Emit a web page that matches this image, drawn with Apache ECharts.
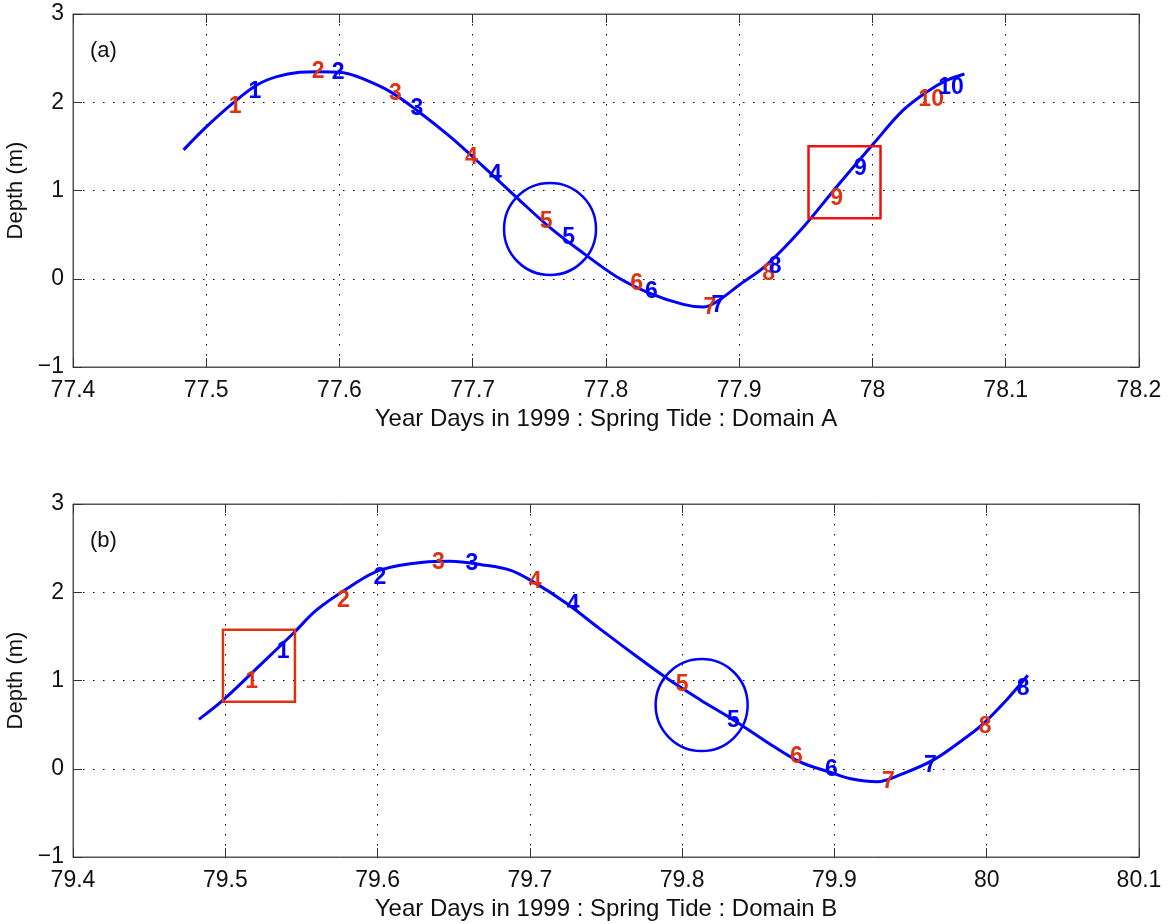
<!DOCTYPE html>
<html>
<head>
<meta charset="utf-8">
<script src="https://cdn.jsdelivr.net/npm/echarts@6/dist/echarts.min.js"></script>
<style>html,body{margin:0;padding:0;background:#fff;}#c{width:1176px;height:924px;}</style>
</head>
<body>
<div id="c"></div>
<script>
// ---- Panel (a) data ----
const topX = [77.483, 77.500, 77.520, 77.538, 77.553, 77.570, 77.583, 77.603, 77.620, 77.638, 77.658, 77.683, 77.708, 77.733, 77.758, 77.783, 77.808, 77.833, 77.858, 77.873, 77.883, 77.900, 77.920, 77.946, 77.973, 78.001, 78.023, 78.041, 78.056, 78.069];
const topY = [1.46, 1.72, 1.99, 2.195, 2.29, 2.34, 2.347, 2.335, 2.25, 2.12, 1.91, 1.61, 1.27, 0.92, 0.58, 0.29, 0.023, -0.165, -0.29, -0.32, -0.26, -0.07, 0.15, 0.55, 1.04, 1.535, 1.91, 2.12, 2.25, 2.32];
const topRedLabels = [[77.5216, 1.95, '1'], [77.584, 2.35, '2'], [77.642, 2.10, '3'], [77.699, 1.37, '4'], [77.755, 0.647, '5'], [77.823, -0.05, '6'], [77.878, -0.33, '7'], [77.922, 0.06, '8'], [77.973, 0.91, '9'], [78.044, 2.03, '10']];
const topBlueLabels = [[77.5366, 2.12, '1'], [77.599, 2.33, '2'], [77.658, 1.93, '3'], [77.717, 1.18, '4'], [77.772, 0.46, '5'], [77.834, -0.15, '6'], [77.884, -0.30, '7'], [77.927, 0.14, '8'], [77.991, 1.25, '9'], [78.059, 2.16, '10']];
const topCircle = [77.758, 0.564];
const topSquare = [77.979, 1.094];

// ---- Panel (b) data ----
const botX = [79.4827, 79.4987, 79.5206, 79.5447, 79.560, 79.5819, 79.6016, 79.630, 79.6476, 79.669, 79.687, 79.702, 79.724, 79.746, 79.768, 79.790, 79.812, 79.834, 79.855, 79.877, 79.899, 79.910, 79.928, 79.943, 79.965, 79.987, 79.998, 80.013, 80.027];
const botY = [0.56, 0.78, 1.138, 1.535, 1.80, 2.063, 2.25, 2.34, 2.35, 2.31, 2.25, 2.12, 1.875, 1.585, 1.30, 1.025, 0.78, 0.55, 0.31, 0.08, -0.05, -0.11, -0.147, -0.07, 0.10, 0.363, 0.515, 0.78, 1.06];
const botRedLabels = [[79.5173, 0.99, '1'], [79.5775, 1.91, '2'], [79.640, 2.33, '3'], [79.7034, 2.12, '4'], [79.800, 0.95, '5'], [79.875, 0.137, '6'], [79.9354, -0.147, '7'], [79.999, 0.48, '8']];
const botBlueLabels = [[79.538, 1.33, '1'], [79.6016, 2.16, '2'], [79.662, 2.32, '3'], [79.7285, 1.86, '4'], [79.8336, 0.55, '5'], [79.898, -0.014, '6'], [79.963, 0.04, '7'], [80.024, 0.91, '8']];
const botCircle = [79.8128, 0.722];
const botSquare = [79.5221, 1.166];

const xRanges = [[77.4, 78.2], [79.4, 80.1]];
const yTicks = [-1, 3, 1];
const xTitles = ['Year Days in 1999 : Spring Tide : Domain A', 'Year Days in 1999 : Spring Tide : Domain B'];
const yTitle = 'Depth (m)';
const panelLabels = ['(a)', '(b)'];

const FONT = '"Liberation Sans", Arial, Helvetica, sans-serif';
const BLUE = '#0000ff';
const RED = '#dd3311';

const chart = echarts.init(document.getElementById('c'));

const grids = [
  {left: 73, top: 14, width: 1066, height: 353, show: true, borderColor: '#555', borderWidth: 1, backgroundColor: '#fff', containLabel: false, outerBoundsMode: 'none'},
  {left: 73, top: 504, width: 1066, height: 353, show: true, borderColor: '#555', borderWidth: 1, backgroundColor: '#fff', containLabel: false, outerBoundsMode: 'none'}
];

const fmtX = v => String(parseFloat(v.toFixed(1)));
const gridLine = {show: true, lineStyle: {color: '#000', width: 1, type: [1.5, 8.5]}};
const xAxes = [], yAxes = [];
for (let g = 0; g < 2; g++) {
  xAxes.push({
    type: 'value', gridIndex: g, position: 'bottom', min: xRanges[g][0], max: xRanges[g][1], interval: 0.1,
    axisLine: {show: true, onZero: false, lineStyle: {color: '#555'}},
    axisTick: {show: true, inside: true, length: 9, lineStyle: {color: '#333'}},
    axisLabel: {formatter: fmtX, color: '#111', fontSize: 23, fontFamily: FONT, margin: 12},
    splitLine: gridLine,
    name: xTitles[g], nameLocation: 'middle', nameGap: 40,
    nameTextStyle: {color: '#111', fontSize: 24, fontFamily: FONT}
  });
  xAxes.push({
    type: 'value', gridIndex: g, position: 'top', min: xRanges[g][0], max: xRanges[g][1], interval: 0.1,
    axisLine: {show: true, onZero: false, lineStyle: {color: '#555'}},
    axisTick: {show: true, inside: true, length: 9, lineStyle: {color: '#333'}},
    axisLabel: {show: false}, splitLine: {show: false}
  });
  yAxes.push({
    type: 'value', gridIndex: g, position: 'left', min: yTicks[0], max: yTicks[1], interval: yTicks[2],
    axisLine: {show: true, onZero: false, lineStyle: {color: '#555'}},
    axisTick: {show: true, inside: true, length: 9, lineStyle: {color: '#333'}},
    axisLabel: {color: '#111', fontSize: 23, fontFamily: FONT, margin: 9, formatter: v => String(v).replace('-', '\u2212')},
    splitLine: gridLine,
    name: yTitle, nameLocation: 'middle', nameGap: 37, nameRotate: 90,
    nameTextStyle: {color: '#111', fontSize: 22, fontFamily: FONT}
  });
  yAxes.push({
    type: 'value', gridIndex: g, position: 'right', min: yTicks[0], max: yTicks[1], interval: yTicks[2],
    axisLine: {show: true, onZero: false, lineStyle: {color: '#555'}},
    axisTick: {show: true, inside: true, length: 9, lineStyle: {color: '#333'}},
    axisLabel: {show: false}, splitLine: {show: false}
  });
}

function lineSeries(g, xs, ys) {
  return {
    type: 'line', xAxisIndex: g * 2, yAxisIndex: g * 2,
    data: xs.map((x, i) => [x, ys[i]]),
    showSymbol: false, symbol: 'none', smooth: 0.35,
    lineStyle: {color: BLUE, width: 3}, z: 3, silent: true
  };
}
function labelSeries(g, arr, color) {
  return {
    type: 'scatter', xAxisIndex: g * 2, yAxisIndex: g * 2,
    data: arr, symbolSize: 1, itemStyle: {color: 'rgba(0,0,0,0)', opacity: 1},
    label: {show: true, position: 'inside', formatter: p => p.value[2], color: color,
            fontSize: 23, fontWeight: 'bold', fontFamily: FONT, textBorderWidth: 0, textBorderColor: 'transparent'},
    z: 4, silent: true
  };
}
function shapeSeries(g, pt, symbol, size, color, width) {
  return {
    type: 'scatter', xAxisIndex: g * 2, yAxisIndex: g * 2,
    data: [pt], symbol: symbol, symbolSize: size,
    itemStyle: {color: 'rgba(0,0,0,0)', borderColor: color, borderWidth: width, opacity: 1},
    z: 5, silent: true
  };
}

const option = {
  backgroundColor: '#fff',
  animation: false,
  grid: grids,
  xAxis: xAxes,
  yAxis: yAxes,
  title: [
    {text: panelLabels[0], left: 85, top: 35, textStyle: {fontSize: 22, fontWeight: 'normal', color: '#111', fontFamily: FONT}},
    {text: panelLabels[1], left: 85, top: 525, textStyle: {fontSize: 22, fontWeight: 'normal', color: '#111', fontFamily: FONT}}
  ],
  series: [
    lineSeries(0, topX, topY),
    labelSeries(0, topRedLabels, RED),
    labelSeries(0, topBlueLabels, BLUE),
    shapeSeries(0, topCircle, 'circle', 92, BLUE, 2.5),
    shapeSeries(0, topSquare, 'rect', 72, '#ee1111', 2.5),
    lineSeries(1, botX, botY),
    labelSeries(1, botRedLabels, RED),
    labelSeries(1, botBlueLabels, BLUE),
    shapeSeries(1, botCircle, 'circle', 92, BLUE, 2.5),
    shapeSeries(1, botSquare, 'rect', 72, RED, 2.5)
  ]
};
chart.setOption(option);
</script>
</body>
</html>
